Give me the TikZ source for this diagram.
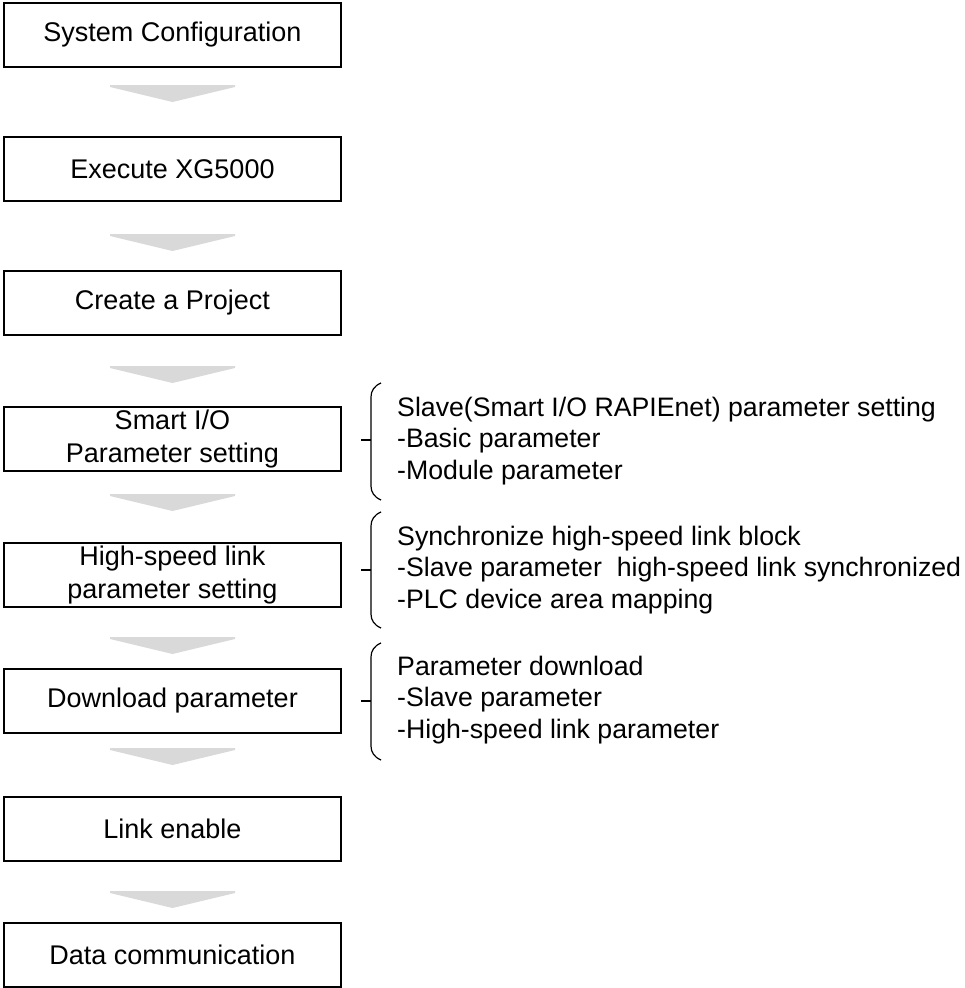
\documentclass[tikz,border=0pt]{standalone}
\usepackage{fontspec}
\setmainfont{Liberation Sans}
\usepackage{tikz}
\usetikzlibrary{positioning}
\usepackage{xcolor}
\definecolor{chevgray}{RGB}{217,217,217}

\tikzset{
  stepbox/.style={draw, line width=1.2pt, minimum width=337pt, minimum height=64pt,
    align=center, inner sep=0pt, font=\fontsize{27}{33}\selectfont},
  notetext/.style={anchor=west, align=left, inner sep=0pt, font=\fontsize{26.7}{31.5}\selectfont},
  notebrace/.style={line width=1.2pt},
}

\begin{document}
\begin{tikzpicture}[x=1pt, y=-1pt]
  \useasboundingbox (0,0) rectangle (964,988);

  % steps
  \node[stepbox] (b1) at (172.5,35) {System Configuration};
  \node[stepbox] (b2) at (172.5,169) {Execute XG5000};
  \node[stepbox] (b3) at (172.5,303) {Create a Project};
  \node[stepbox] (b4) at (172.5,439) {Smart I/O\\Parameter setting};
  \node[stepbox] (b5) at (172.5,575) {High-speed link\\parameter setting};
  \node[stepbox] (b6) at (172.5,701) {Download parameter};
  \node[stepbox] (b7) at (172.5,829) {Link enable};
  \node[stepbox] (b8) at (172.5,955) {Data communication};

  % gray arrows between steps
  \foreach \y in {85,234,366,494,637,748,891}
    \fill[chevgray] (110,\y) -- (235,\y) -- (235,\y+2) -- (172.5,\y+17) -- (110,\y+2) -- cycle;

  % notes
  \node[notetext] (n4) at (397,441) {Slave(Smart I/O RAPIEnet) parameter setting\\-Basic parameter\\-Module parameter};
  \node[notetext] (n5) at (397,570) {Synchronize high-speed link block\\-Slave parameter\ \ high-speed link synchronized\\-PLC device area mapping};
  \node[notetext] (n6) at (397,700) {Parameter download\\-Slave parameter\\-High-speed link parameter};

  % braces
  \foreach \t/\m/\b in {383/440/500, 512/570/628, 643/701/760} {
    \draw[notebrace] (381,\t) .. controls (374,\t+3) and (371,\t+8) .. (371,\t+14)
      -- (371,\b-14) .. controls (371,\b-8) and (374,\b-3) .. (381,\b);
    \draw[notebrace] (361,\m) -- (371,\m);
  }
\end{tikzpicture}
\end{document}
